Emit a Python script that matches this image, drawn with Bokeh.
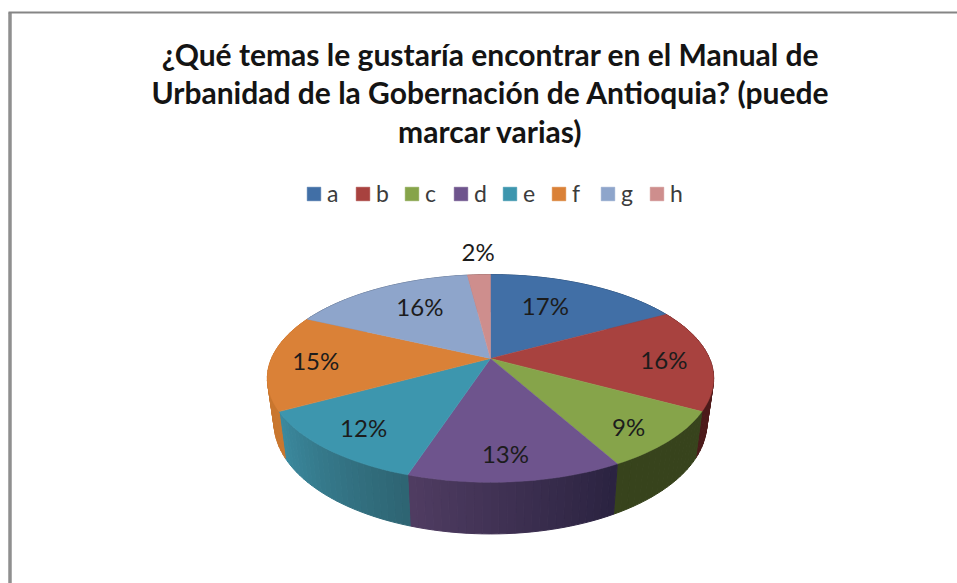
import math
from bokeh.plotting import figure
from bokeh.models import Legend, LegendItem, ColumnDataSource
from bokeh.core.properties import value
from bokeh.embed import file_html
from bokeh.resources import INLINE

# ---- data ----
categories = ["a", "b", "c", "d", "e", "f", "g", "h"]
percent = [17, 16, 9, 13, 12, 15, 16, 2]
title_lines = [
    "¿Qué temas le gustaría encontrar en el Manual de",
    "Urbanidad de la Gobernación de Antioquia? (puede",
    "marcar varias)",
]

# ---- styles ----
top_colors = ["#416fa6", "#a8423f", "#86a44a", "#6e548d", "#3d96ae", "#da8137", "#8ea5cb", "#ce8e8d"]
wall_from = ["#2a4a70", "#6a1f1f", "#37431c", "#2a2340", "#2e6472", "#c9772f", "#5a6b85", "#8a5f5e"]
wall_to = ["#2a4a70", "#4a1a1a", "#37431c", "#503c62", "#3b8a9f", "#c9772f", "#5a6b85", "#8a5f5e"]
label_nudge = [(-6, -6), (42, 1), (37, 22), (1, 28), (-35, 18), (-43, 0), (0, -8), (-5, -53)]

# ---- projection of the tilted disc ----
CX, CY, R, RY, K = 490, 358, 219, 100, 0.192
BX, BY, BCY = 0.97, 1.07, 401


def top(frac, r=1.0):
    th = 2 * math.pi * frac
    d = 1 + K * r * math.cos(th)
    return CX + R * r * math.sin(th) / d, CY - RY * r * math.cos(th) / d


def bottom(frac):
    x, y = top(frac)
    return CX + BX * (x - CX), BCY + BY * (y - CY)


def mix(c1, c2, t):
    a = [int(c1[i:i + 2], 16) for i in (1, 3, 5)]
    b = [int(c2[i:i + 2], 16) for i in (1, 3, 5)]
    return "#%02x%02x%02x" % tuple(round(u + (v - u) * t) for u, v in zip(a, b))


p = figure(width=957, height=583, x_range=(0, 957), y_range=(583, 0),
           toolbar_location=None, output_backend="svg", min_border=0,
           background_fill_color="white", border_fill_color="white")
p.axis.visible = False
p.grid.visible = False
p.outline_line_color = None

# frame of the original picture
p.line([9.5, 9.5], [12, 583], line_color="#8f8f8f", line_width=3.5)
p.line([8, 957], [12, 12], line_color="#858585", line_width=2)

total = sum(percent)
starts, acc = [], 0
for v in percent:
    starts.append(acc / total)
    acc += v
ends = starts[1:] + [1.0]

# side walls with shading
wx, wy, wc = [], [], []
for s, e, c1, c2 in zip(starts, ends, wall_from, wall_to):
    n = max(2, int((e - s) * 200))
    for j in range(n):
        f0 = s + (e - s) * j / n
        f1 = s + (e - s) * (j + 1) / n
        a, b, c, d = top(f0), top(f1), bottom(f1), bottom(f0)
        wx.append([a[0], b[0], c[0], d[0]])
        wy.append([a[1], b[1], c[1], d[1]])
        wc.append(mix(c1, c2, (j + 0.5) / n))
p.patches("x", "y", source=ColumnDataSource(dict(x=wx, y=wy, c=wc)),
          fill_color="c", line_color="c", line_width=1)

# top faces
items = []
for cat, s, e, col in zip(categories, starts, ends, top_colors):
    n = max(2, int((e - s) * 200))
    pts = [top(s + (e - s) * j / n) for j in range(n + 1)]
    xs = [CX] + [q[0] for q in pts]
    ys = [CY] + [q[1] for q in pts]
    r = p.patch(xs, ys, fill_color=col, line_color=col, line_width=0.5)
    items.append(LegendItem(label=cat, renderers=[r]))

# percent labels
for v, s, e, (dx, dy) in zip(percent, starts, ends, label_nudge):
    x, y = top((s + e) / 2, 0.6)
    p.text([x + dx], [y + dy], text=[f"{v}%"], text_font=value("Lato"), text_font_size="24px",
           text_align="center", text_baseline="middle", text_color="#1c1c1c")

# title
for line, y in zip(title_lines, [53, 91, 130]):
    p.text([490], [y], text=[line], text_font=value("Lato"), text_font_size="30px",
           text_font_style="bold", text_align="center", text_baseline="middle", text_color="#141414")

legend = Legend(items=items, orientation="horizontal", location=(305, 376),
                border_line_color=None, background_fill_alpha=0,
                glyph_width=17, glyph_height=17, label_standoff=5, spacing=7,
                padding=0, margin=0, label_text_font="Lato", label_text_font_size="23px",
                label_text_color="#3c3c3c", label_text_baseline="middle")
p.add_layout(legend, "center")

open("out.html", "w").write(file_html(p, INLINE))
